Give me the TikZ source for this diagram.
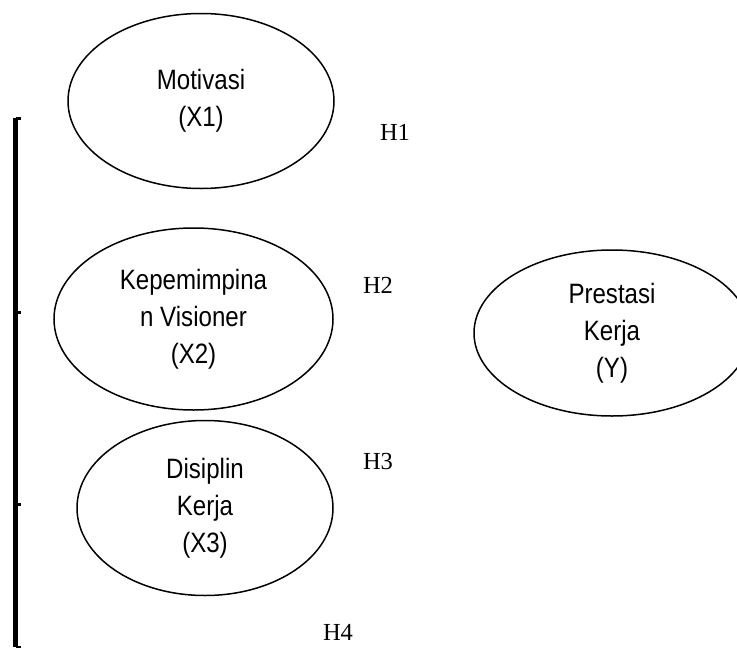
\documentclass[tikz,border=0pt]{standalone}
\usepackage{fontspec}
\setmainfont{Liberation Serif}
\newfontfamily\arialfont[FakeStretch=0.86]{Liberation Sans}
\usetikzlibrary{shapes.geometric}
\tikzset{
  varbox/.style={ellipse, draw, line width=1.5pt, inner sep=0pt, align=center,
    font=\arialfont\fontsize{28}{37}\selectfont},
  hlabel/.style={inner sep=0pt, font=\fontsize{24.5}{28}\selectfont},
}
\begin{document}
\begin{tikzpicture}[x=1pt, y=-1pt]
			\useasboundingbox (0,0) rectangle (737,648);
			%Variabel
			\node[varbox, minimum width=266pt, minimum height=175pt] (X1) at (201,101) {Motivasi\\(X1)};
			\node[varbox, minimum width=279pt, minimum height=182pt] (X2) at (193.5,319) {Kepemimpina\\n Visioner\\(X2)};
			\node[varbox, minimum width=256pt, minimum height=175pt] (X3) at (205,508) {Disiplin\\Kerja\\(X3)};
			\node[varbox, minimum width=276pt, minimum height=166pt] (Y) at (612,333) {Prestasi\\Kerja\\(Y)};
			%Hipotesis
			\node[hlabel] (H1) at (395,132) {H1};
			\node[hlabel] (H2) at (378,285) {H2};
			\node[hlabel] (H3) at (378,462) {H3};
			\node[hlabel] (H4) at (338,632) {H4};
			%Kurung
			\coordinate (Btop) at (15.5,118);
			\coordinate (Bbot) at (15.5,647);
			\draw[line width=5pt] (Btop) -- (Bbot);
			\draw[line width=3pt] (Btop) -- +(5,0);
			\draw[line width=3pt] (15.5,312) -- +(5,0);
			\draw[line width=3pt] (15.5,504) -- +(5,0);
			\draw[line width=2pt] (Bbot) -- +(5,0);
		\end{tikzpicture}
\end{document}
